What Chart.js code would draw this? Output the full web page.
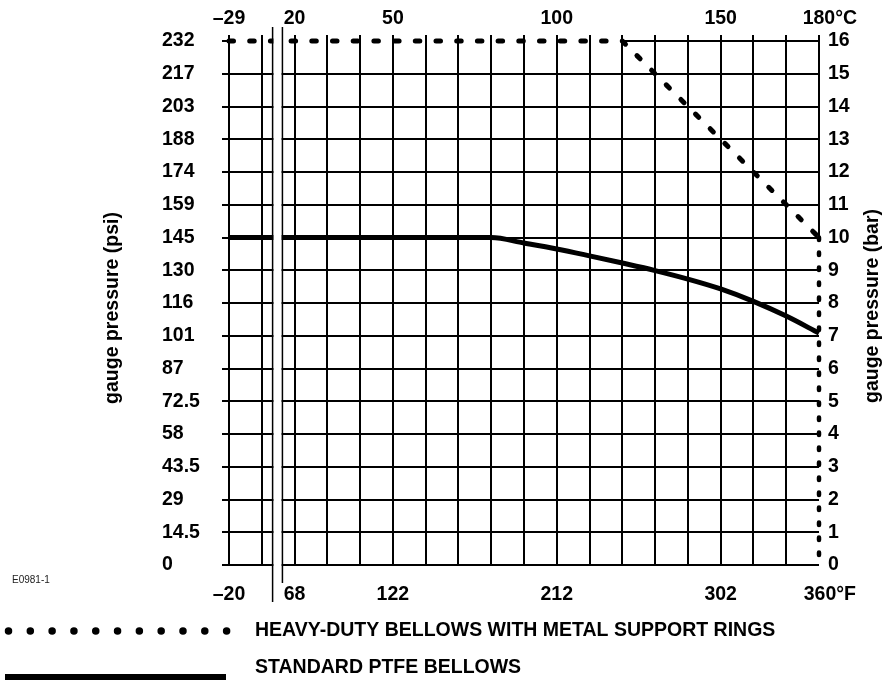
<!DOCTYPE html>
<html>
<head>
<meta charset="utf-8">
<script src="https://cdn.jsdelivr.net/npm/chart.js@4.4.1/dist/chart.umd.min.js"></script>
<style>
  html, body { margin: 0; padding: 0; background: #fff; }
  canvas { display: block; }
</style>
</head>
<body>
<canvas id="c" width="883" height="683"></canvas>
<script>
// ---------------- data ----------------
const celsiusTickTemps = [-29, 20, 50, 100, 150, 180];
const celsiusTickLabels = ['–29', '20', '50', '100', '150', '180°C'];
const fahrenheitTickLabels = ['–20', '68', '122', '212', '302', '360°F'];
const barTickLabels = ['0','1','2','3','4','5','6','7','8','9','10','11','12','13','14','15','16'];
const psiTickLabels = ['0','14.5','29','43.5','58','72.5','87','101','116','130','145','159','174','188','203','217','232'];

const heavyDutyTempC = [-29, 120, 180, 180];
const heavyDutyBar   = [16, 16, 10, 0];

const standardTempC = [-29, 80, 90, 100, 110, 120, 130, 140, 150, 160, 170, 180];
const standardBar   = [10, 10, 9.83, 9.65, 9.44, 9.22, 8.99, 8.73, 8.43, 8.05, 7.6, 7.08];

const seriesNames = ['HEAVY-DUTY BELLOWS WITH METAL SUPPORT RINGS', 'STANDARD PTFE BELLOWS'];
const yAxisTitles = ['gauge pressure (psi)', 'gauge pressure (bar)'];
const figureCode = 'E0981-1';

// ---------------- broken temperature axis ----------------
// temperatures below 20 °C are compressed into the first 20 axis units (axis break)
const BREAK_T = 20, MIN_T = -29;
function toAxis(t) { return t >= BREAK_T ? t : BREAK_T * (t - MIN_T) / (BREAK_T - MIN_T); }
const gridAxisValues = [];
for (let v = 0; v <= 180; v += 10) gridAxisValues.push(v);
const labelAxisValues = celsiusTickTemps.map(toAxis);
const BREAK_A = 13.3, BREAK_B = 16.3;

const FONT = 'Liberation Sans, Arial, Helvetica, sans-serif';
const tickFont = { family: FONT, size: 19.5, weight: 'bold', lineHeight: 1.2 };
Chart.defaults.color = '#000';
Chart.defaults.font.family = FONT;

function xLabel(labels) {
  return (v) => {
    const i = labelAxisValues.indexOf(v);
    if (i < 0) return '';
    return i === labels.length - 1 ? '    ' + labels[i] : labels[i];
  };
}

const decor = {
  id: 'decor',
  beforeDatasetsDraw(chart) {
    const { ctx, scales: { x, y } } = chart;
    const xr = x.getPixelForValue(x.max);
    const yt = y.getPixelForValue(y.max);
    ctx.save();
    ctx.strokeStyle = '#000';
    ctx.lineWidth = 2;
    ctx.beginPath();
    // right frame above the heavy-duty end point
    ctx.moveTo(xr, yt - 1);
    ctx.lineTo(xr, y.getPixelForValue(heavyDutyBar[2]));
    // top frame to the right of the heavy-duty bend
    ctx.moveTo(x.getPixelForValue(toAxis(heavyDutyTempC[1])), yt);
    ctx.lineTo(xr + 1, yt);
    ctx.stroke();
    ctx.restore();
  },
  afterDatasetsDraw(chart) {
    const { ctx, chartArea, scales: { x } } = chart;
    const xa = x.getPixelForValue(BREAK_A), xb = x.getPixelForValue(BREAK_B);
    ctx.save();
    ctx.fillStyle = '#fff';
    ctx.fillRect(xa + 0.8, chartArea.top - 16, xb - xa - 1.6, chartArea.bottom - chartArea.top + 40);
    ctx.strokeStyle = '#000';
    ctx.lineWidth = 1.5;
    ctx.beginPath();
    ctx.moveTo(xa, chartArea.top - 14); ctx.lineTo(xa, chartArea.bottom + 37);
    ctx.moveTo(xb, chartArea.top - 14); ctx.lineTo(xb, chartArea.bottom + 18);
    ctx.stroke();
    ctx.restore();
  },
  afterDraw(chart) {
    const { ctx, chartArea } = chart;
    const midY = (chartArea.top + chartArea.bottom) / 2;
    ctx.save();
    ctx.fillStyle = '#000';
    ctx.font = 'bold 19.5px ' + FONT;
    ctx.textAlign = 'center';
    ctx.textBaseline = 'middle';
    // axis titles (both read bottom-to-top)
    ctx.save(); ctx.translate(113, midY + 5); ctx.rotate(-Math.PI / 2); ctx.fillText(yAxisTitles[0], 0, 0); ctx.restore();
    ctx.save(); ctx.translate(873, midY + 3); ctx.rotate(-Math.PI / 2); ctx.fillText(yAxisTitles[1], 0, 0); ctx.restore();
    // legend
    ctx.textAlign = 'left';
    ctx.fillText(seriesNames[0], 255, 631);
    ctx.fillText(seriesNames[1], 255, 668);
    ctx.strokeStyle = '#000';
    ctx.lineCap = 'round';
    ctx.lineWidth = 7.5;
    ctx.setLineDash([0.01, 21.8]);
    ctx.beginPath(); ctx.moveTo(8.5, 631); ctx.lineTo(229, 631); ctx.stroke();
    ctx.setLineDash([]);
    ctx.lineCap = 'butt';
    ctx.lineWidth = 6;
    ctx.beginPath(); ctx.moveTo(5, 677); ctx.lineTo(226, 677); ctx.stroke();
    // figure code
    ctx.font = '10px ' + FONT;
    ctx.fillStyle = '#222';
    ctx.fillText(figureCode, 12, 580);
    ctx.restore();
  }
};

new Chart(document.getElementById('c'), {
  type: 'line',
  data: {
    datasets: [
      {
        label: seriesNames[0],
        data: heavyDutyTempC.map((t, i) => ({ x: toAxis(t), y: heavyDutyBar[i] })),
        xAxisID: 'x', yAxisID: 'y',
        borderColor: '#000', borderWidth: 5,
        borderDash: [4.5, 16.2], borderCapStyle: 'round', borderJoinStyle: 'round',
        pointRadius: 0, tension: 0, clip: false,
        segment: {
          borderDash: c => c.p0.parsed.x === c.p1.parsed.x ? [2.5, 12.5] : undefined,
          borderWidth: c => c.p0.parsed.x === c.p1.parsed.x ? 4.5 : undefined
        }
      },
      {
        label: seriesNames[1],
        data: standardTempC.map((t, i) => ({ x: toAxis(t), y: standardBar[i] })),
        xAxisID: 'x', yAxisID: 'y',
        borderColor: '#000', borderWidth: 5, borderJoinStyle: 'round',
        pointRadius: 0, cubicInterpolationMode: 'monotone', clip: false
      }
    ]
  },
  options: {
    responsive: false,
    animation: false,
    devicePixelRatio: 1,
    layout: { padding: { left: 162, right: 0, top: 6.6, bottom: 77 } },
    plugins: { legend: { display: false }, tooltip: { enabled: false } },
    scales: {
      x: {
        type: 'linear', position: 'top', min: 0, max: 180,
        afterBuildTicks: s => { s.ticks = gridAxisValues.map(v => ({ value: v })); },
        ticks: { autoSkip: false, maxRotation: 0, minRotation: 0, padding: 5, font: tickFont, color: '#000',
                 callback: xLabel(celsiusTickLabels) },
        grid: { color: c => (c.tick && c.tick.value === 180) ? 'rgba(0,0,0,0)' : '#000',
                tickColor: '#000', lineWidth: 2, tickLength: 6 },
        border: { display: false },
        afterFit: s => { s.height = 34.4; }
      },
      x2: {
        type: 'linear', position: 'bottom', min: 0, max: 180,
        afterBuildTicks: s => { s.ticks = labelAxisValues.map(v => ({ value: v })); },
        ticks: { autoSkip: false, maxRotation: 0, minRotation: 0, padding: 17.6, font: tickFont, color: '#000',
                 callback: xLabel(fahrenheitTickLabels) },
        grid: { display: false, drawTicks: false, tickLength: 0 },
        border: { display: false },
        afterFit: s => { s.height = 41; }
      },
      y: {
        type: 'linear', position: 'left', min: 0, max: 16,
        afterBuildTicks: s => { s.ticks = barTickLabels.map((_, i) => ({ value: i })); },
        ticks: { autoSkip: false, crossAlign: 'far', padding: 22, font: tickFont, color: '#000',
                 callback: (v, i) => psiTickLabels[i] },
        grid: { color: c => (c.tick && c.tick.value === 16) ? 'rgba(0,0,0,0)' : '#000',
                tickColor: '#000', lineWidth: 2, tickLength: 7 },
        border: { display: false },
        afterFit: s => { s.width = 67; }
      },
      y2: {
        type: 'linear', position: 'right', min: 0, max: 16,
        afterBuildTicks: s => { s.ticks = barTickLabels.map((_, i) => ({ value: i })); },
        ticks: { autoSkip: false, padding: 9, font: tickFont, color: '#000',
                 callback: (v, i) => barTickLabels[i] },
        grid: { display: false, drawTicks: false, tickLength: 0 },
        border: { display: false },
        afterFit: s => { s.width = 64; }
      }
    }
  },
  plugins: [decor]
});
</script>
</body>
</html>
